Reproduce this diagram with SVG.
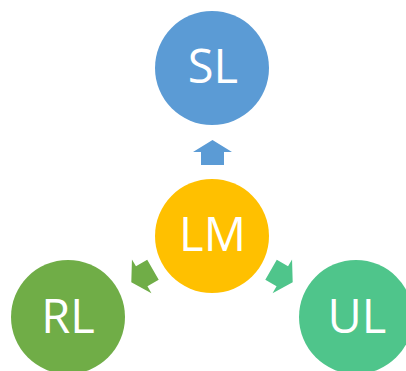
<svg xmlns="http://www.w3.org/2000/svg" width="406" height="371" viewBox="0 0 406 371">
<style>
.lbl{font-family:"Open Sans","Liberation Sans",sans-serif;font-size:47px;fill:#ffffff;text-anchor:middle}
</style>
<defs>
<path id="arr" d="M0,-12 L19.5,0 L11.5,0 L11.5,13 L-11.5,13 L-11.5,0 L-19.5,0 Z"/>
</defs>
<rect width="406" height="371" fill="#ffffff"/>
<g id="connectors">
<use href="#arr" transform="translate(212.5,152)" fill="#5B9BD5"/>
<use href="#arr" transform="translate(141.7,276.3) rotate(-120)" fill="#70AD47"/>
<use href="#arr" transform="translate(282.3,276.3) rotate(120)" fill="#4FC58B"/>
</g>
<g id="SL"><circle cx="212" cy="68" r="57" fill="#5B9BD5"/><text class="lbl" x="213" y="83">SL</text></g>
<g id="LM"><circle cx="212" cy="236" r="57" fill="#FFC000"/><text class="lbl" x="212.5" y="251">LM</text></g>
<g id="RL"><circle cx="68" cy="317" r="57" fill="#70AD47"/><text class="lbl" x="68" y="333">RL</text></g>
<g id="UL"><circle cx="356" cy="317" r="57" fill="#4FC58B"/><text class="lbl" x="357" y="333">UL</text></g>
</svg>
